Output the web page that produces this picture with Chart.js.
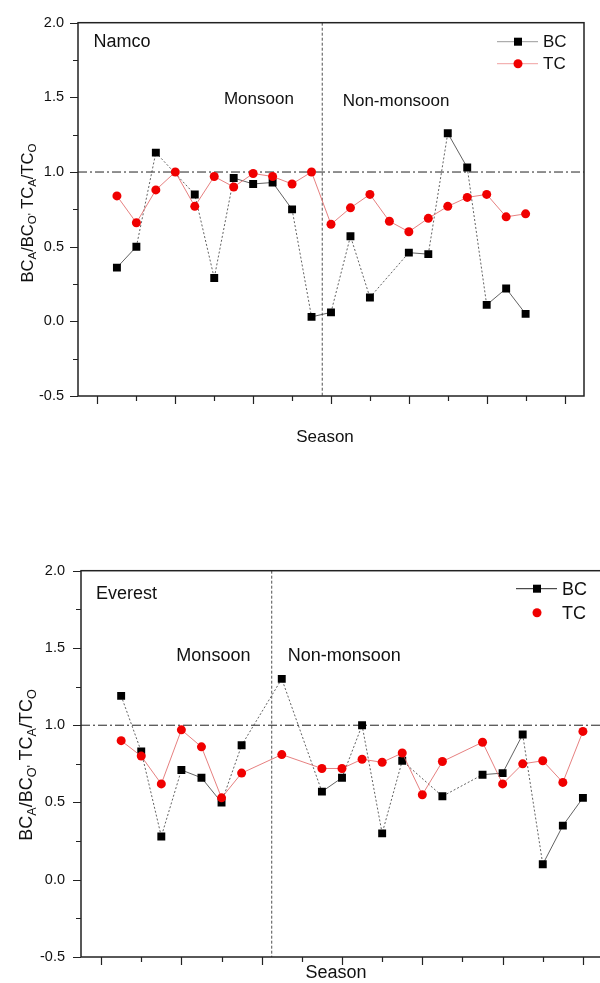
<!DOCTYPE html>
<html>
<head>
<meta charset="utf-8">
<script src="https://cdn.jsdelivr.net/npm/chart.js@4.4.0/dist/chart.umd.min.js"></script>
<style>
  html, body { margin: 0; padding: 0; width: 600px; height: 983px; overflow: hidden; background: #fff; }
  canvas { position: absolute; left: 0; }
  #namcoChart { top: 0; }
  #everestChart { top: 546px; }
  .ytitle {
    position: absolute;
    font-family: Arial, "Liberation Sans", sans-serif;
    color: #111;
    white-space: nowrap;
    line-height: 1;
    transform: translate(-50%, -50%) rotate(-90deg);
  }
  .ytitle sub { font-size: 70%; vertical-align: -0.3em; line-height: 0; }
</style>
</head>
<body>
<canvas id="namcoChart" width="600" height="450"></canvas>
<canvas id="everestChart" width="620" height="437"></canvas>
<div class="ytitle" style="left:27px; top:213px; font-size:16.5px;">BC<sub>A</sub>/BC<sub>O'</sub> TC<sub>A</sub>/TC<sub>O</sub></div>
<div class="ytitle" style="left:26px; top:765px; font-size:18px;">BC<sub>A</sub>/BC<sub>O'</sub> TC<sub>A</sub>/TC<sub>O</sub></div>
<script>
  const FONT = 'Arial, "Liberation Sans", sans-serif';

  // ================== DATA ==================
  // sample order along the season axis (null = no sample of that kind)
  const namcoBC = [0.36, 0.50, 1.13, null, 0.85, 0.29, 0.96, 0.92, 0.93, 0.75, 0.03,
                   0.06, 0.57, 0.16, null, 0.46, 0.45, 1.26, 1.03, 0.11, 0.22, 0.05];
  const namcoTC = [0.84, 0.66, 0.88, 1.00, 0.77, 0.97, 0.90, 0.99, 0.97, 0.92, 1.00,
                   0.65, 0.76, 0.85, 0.67, 0.60, 0.69, 0.77, 0.83, 0.85, 0.70, 0.72];

  const everestBC = [1.19, 0.83, 0.28, 0.71, 0.66, 0.50, 0.87, null, 1.30, null, 0.57, 0.66,
                     1.00, 0.30, 0.77, null, 0.54, null, 0.68, 0.69, 0.94, 0.10, 0.35, 0.53];
  const everestTC = [0.90, 0.80, 0.62, 0.97, 0.86, 0.53, 0.69, null, 0.81, null, 0.72, 0.72,
                     0.78, 0.76, 0.82, 0.55, 0.765, null, 0.89, 0.62, 0.75, 0.77, 0.63, 0.96];

  const seasonTicks = [-1, 1, 3, 5, 7, 9, 11, 13, 15, 17, 19, 21, 23];
  const ratioTicks = [-0.5, 0, 0.5, 1.0, 1.5, 2.0];
  const seriesNames = ["BC", "TC"];

  function toPoints(values) {
    return values.map((v, i) => ({ x: i, y: v }));
  }

  // thin steep segments come out broken in the original figure
  function steepDash(ctx) {
    const dx = Math.abs(ctx.p1.x - ctx.p0.x);
    const dy = Math.abs(ctx.p1.y - ctx.p0.y);
    return dy > 2.5 * dx ? [2, 2] : undefined;
  }

  // ================== CHART BUILDER ==================
  function makeChart(canvasId, cfg) {
    const framePlugin = {
      id: "frame_" + canvasId,
      beforeDatasetsDraw(chart) {
        const { ctx, chartArea: a, scales: { x, y } } = chart;
        ctx.save();
        ctx.strokeStyle = "#222";
        ctx.lineWidth = 1;
        // reference ratio = 1
        const y1 = y.getPixelForValue(1.0);
        ctx.setLineDash([9, 3, 2, 3]);
        ctx.beginPath();
        ctx.moveTo(a.left, y1);
        ctx.lineTo(a.right, y1);
        ctx.stroke();
        // monsoon / non-monsoon split
        const xs = x.getPixelForValue(cfg.split);
        ctx.setLineDash([3, 2]);
        ctx.lineWidth = 0.8;
        ctx.beginPath();
        ctx.moveTo(xs, a.top);
        ctx.lineTo(xs, a.bottom);
        ctx.stroke();
        ctx.restore();
      },
      afterDraw(chart) {
        const { ctx, chartArea: a, scales: { x, y } } = chart;
        ctx.save();

        // box
        ctx.strokeStyle = "#222";
        ctx.lineWidth = 1.5;
        ctx.strokeRect(a.left, a.top, a.right - a.left, a.bottom - a.top);

        // tick marks (outside)
        ctx.lineWidth = 1.2;
        ctx.beginPath();
        seasonTicks.forEach((v) => {
          const px = Math.round(x.getPixelForValue(v)) + 0.5;
          const len = (v + 1) % 4 === 0 ? 8 : 5;
          ctx.moveTo(px, a.bottom);
          ctx.lineTo(px, a.bottom + len);
        });
        ratioTicks.forEach((v, i) => {
          const py = Math.round(y.getPixelForValue(v)) + 0.5;
          ctx.moveTo(a.left, py);
          ctx.lineTo(a.left - 8, py);
          if (i < ratioTicks.length - 1) {
            const pm = Math.round(y.getPixelForValue(v + 0.25)) + 0.5;
            ctx.moveTo(a.left, pm);
            ctx.lineTo(a.left - 5, pm);
          }
        });
        ctx.stroke();

        // texts
        ctx.fillStyle = "#111";
        ctx.textBaseline = "middle";
        ctx.textAlign = "left";
        cfg.notes.forEach((n) => {
          ctx.font = n.size + "px " + FONT;
          ctx.fillText(n.text, x.getPixelForValue(n.x), y.getPixelForValue(n.y));
        });

        // axis title
        ctx.textAlign = "center";
        ctx.font = cfg.titleSize + "px " + FONT;
        ctx.fillText("Season", (a.left + a.right) / 2 - 6, a.bottom + cfg.titleGap);

        // legend
        const lg = cfg.legend;
        const cx = a.right - 66;
        seriesNames.forEach((name, i) => {
          const ly = a.top + lg.rows[i];
          if (lg.lines[i]) {
            ctx.strokeStyle = lg.lines[i];
            ctx.lineWidth = 1;
            ctx.beginPath();
            ctx.moveTo(a.right - 87, ly);
            ctx.lineTo(a.right - 46, ly);
            ctx.stroke();
          }
          if (i === 0) {
            ctx.fillStyle = "#000";
            ctx.fillRect(cx - 4, ly - 4, 8, 8);
          } else {
            ctx.fillStyle = "#f00000";
            ctx.beginPath();
            ctx.arc(cx, ly, 4.5, 0, Math.PI * 2);
            ctx.fill();
          }
          ctx.fillStyle = "#111";
          ctx.textAlign = "left";
          ctx.font = lg.size + "px " + FONT;
          ctx.fillText(name, a.right - 41, ly + 1);
        });

        ctx.restore();
      },
    };

    return new Chart(document.getElementById(canvasId), {
      type: "line",
      data: {
        datasets: [
          {
            label: "BC",
            data: toPoints(cfg.bc),
            order: 2,
            borderColor: "#3a3a3a",
            borderWidth: 0.8,
            pointStyle: "rect",
            pointRadius: 5.6,
            pointBackgroundColor: "#000",
            pointBorderWidth: 0,
            spanGaps: true,
            segment: { borderDash: steepDash },
          },
          {
            label: "TC",
            data: toPoints(cfg.tc),
            order: 1,
            borderColor: "#e06060",
            borderWidth: 0.8,
            pointStyle: "circle",
            pointRadius: 4.5,
            pointBackgroundColor: "#f00000",
            pointBorderWidth: 0,
            spanGaps: true,
          },
        ],
      },
      options: {
        responsive: false,
        animation: false,
        events: [],
        layout: { padding: cfg.padding },
        plugins: { legend: { display: false }, tooltip: { enabled: false } },
        scales: {
          x: {
            type: "linear",
            min: -2,
            max: 24,
            grid: { display: false },
            border: { display: false },
            ticks: { display: false },
            afterFit(scale) {
              scale.height = cfg.xAxisHeight;
            },
          },
          y: {
            min: -0.5,
            max: 2.0,
            grid: { display: false, drawTicks: false },
            border: { display: false },
            ticks: {
              stepSize: 0.5,
              padding: cfg.tickPad,
              color: "#111",
              font: { family: FONT, size: 14.5 },
              callback: (v) => v.toFixed(1),
            },
            afterFit(scale) {
              scale.width = cfg.yAxisWidth;
            },
          },
        },
      },
      plugins: [framePlugin],
    });
  }

  // ================== CHARTS ==================
  makeChart("namcoChart", {
    bc: namcoBC,
    tc: namcoTC,
    split: 10.55,
    padding: { top: 20, right: 16, bottom: 0, left: 0 },
    xAxisHeight: 54,
    yAxisWidth: 78,
    tickPad: 14,
    titleSize: 17,
    titleGap: 41,
    notes: [
      { text: "Namco", x: -1.2, y: 1.87, size: 18 },
      { text: "Monsoon", x: 5.5, y: 1.49, size: 17 },
      { text: "Non-monsoon", x: 11.6, y: 1.475, size: 17 },
    ],
    legend: { rows: [19, 41], lines: ["#9a9a9a", "#f0a0a0"], size: 17 },
  });

  makeChart("everestChart", {
    bc: everestBC,
    tc: everestTC,
    split: 7.5,
    padding: { top: 21, right: 17, bottom: 0, left: 0 },
    xAxisHeight: 26,
    yAxisWidth: 81,
    tickPad: 16,
    titleSize: 18,
    titleGap: 16,
    notes: [
      { text: "Everest", x: -1.25, y: 1.85, size: 18 },
      { text: "Monsoon", x: 2.75, y: 1.45, size: 18 },
      { text: "Non-monsoon", x: 8.3, y: 1.45, size: 18 },
    ],
    legend: { rows: [18, 42], lines: ["#222", null], size: 18 },
  });
</script>
</body>
</html>
